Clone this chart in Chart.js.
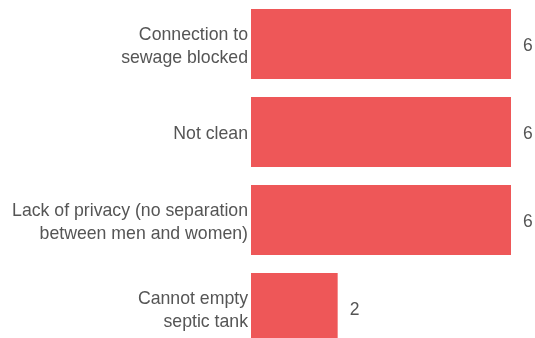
<!DOCTYPE html>
<html>
<head>
<meta charset="utf-8">
<script src="https://cdn.jsdelivr.net/npm/chart.js@4/dist/chart.umd.min.js"></script>
<style>
  html, body { margin: 0; padding: 0; background: #fff; overflow: hidden; }
  #wrap { width: 535px; height: 338px; overflow: hidden; }
</style>
</head>
<body>
<div id="wrap"><canvas id="chart" width="535" height="352"></canvas></div>
<script>
const categories = [
  ["Connection to", "sewage blocked"],
  "Not clean",
  ["Lack of privacy (no separation", "between men and women)"],
  ["Cannot empty", "septic tank"],
];
const counts = [6, 6, 6, 2];

const textColor = "#555555";
const barColor = "#ee5758";

// write the value right after each bar
const valueLabels = {
  id: "valueLabels",
  afterDatasetsDraw(chart) {
    const ctx = chart.ctx;
    const meta = chart.getDatasetMeta(0);
    ctx.save();
    ctx.font = "17.5px 'Liberation Sans', Arial, sans-serif";
    ctx.fillStyle = textColor;
    ctx.textAlign = "left";
    ctx.textBaseline = "middle";
    meta.data.forEach((bar, i) => {
      ctx.fillText(String(counts[i]), bar.x + 12, bar.y + 2);
    });
    ctx.restore();
  },
};

new Chart(document.getElementById("chart").getContext("2d"), {
  type: "bar",
  data: {
    labels: categories,
    datasets: [
      {
        data: counts,
        backgroundColor: barColor,
        borderWidth: 0,
        barPercentage: 0.795,
        categoryPercentage: 1,
      },
    ],
  },
  options: {
    indexAxis: "y",
    responsive: false,
    animation: false,
    layout: {
      padding: { top: 0, right: 24, bottom: 0, left: 0 },
    },
    plugins: {
      legend: { display: false },
      tooltip: { enabled: false },
    },
    scales: {
      x: {
        display: false,
        min: 0,
        max: 6,
      },
      y: {
        grid: { display: false, drawTicks: false },
        border: { display: false },
        afterFit: (scale) => {
          scale.width = 251;
          // the plot runs off the bottom edge, so no room kept for label halves
          scale.paddingTop = 0;
          scale.paddingBottom = 0;
        },
        ticks: {
          padding: 3,
          labelOffset: 2.5,
          color: textColor,
          font: {
            family: "'Liberation Sans', Arial, sans-serif",
            size: 17.7,
            lineHeight: 1.3,
          },
        },
      },
    },
  },
  plugins: [valueLabels],
});
</script>
</body>
</html>
